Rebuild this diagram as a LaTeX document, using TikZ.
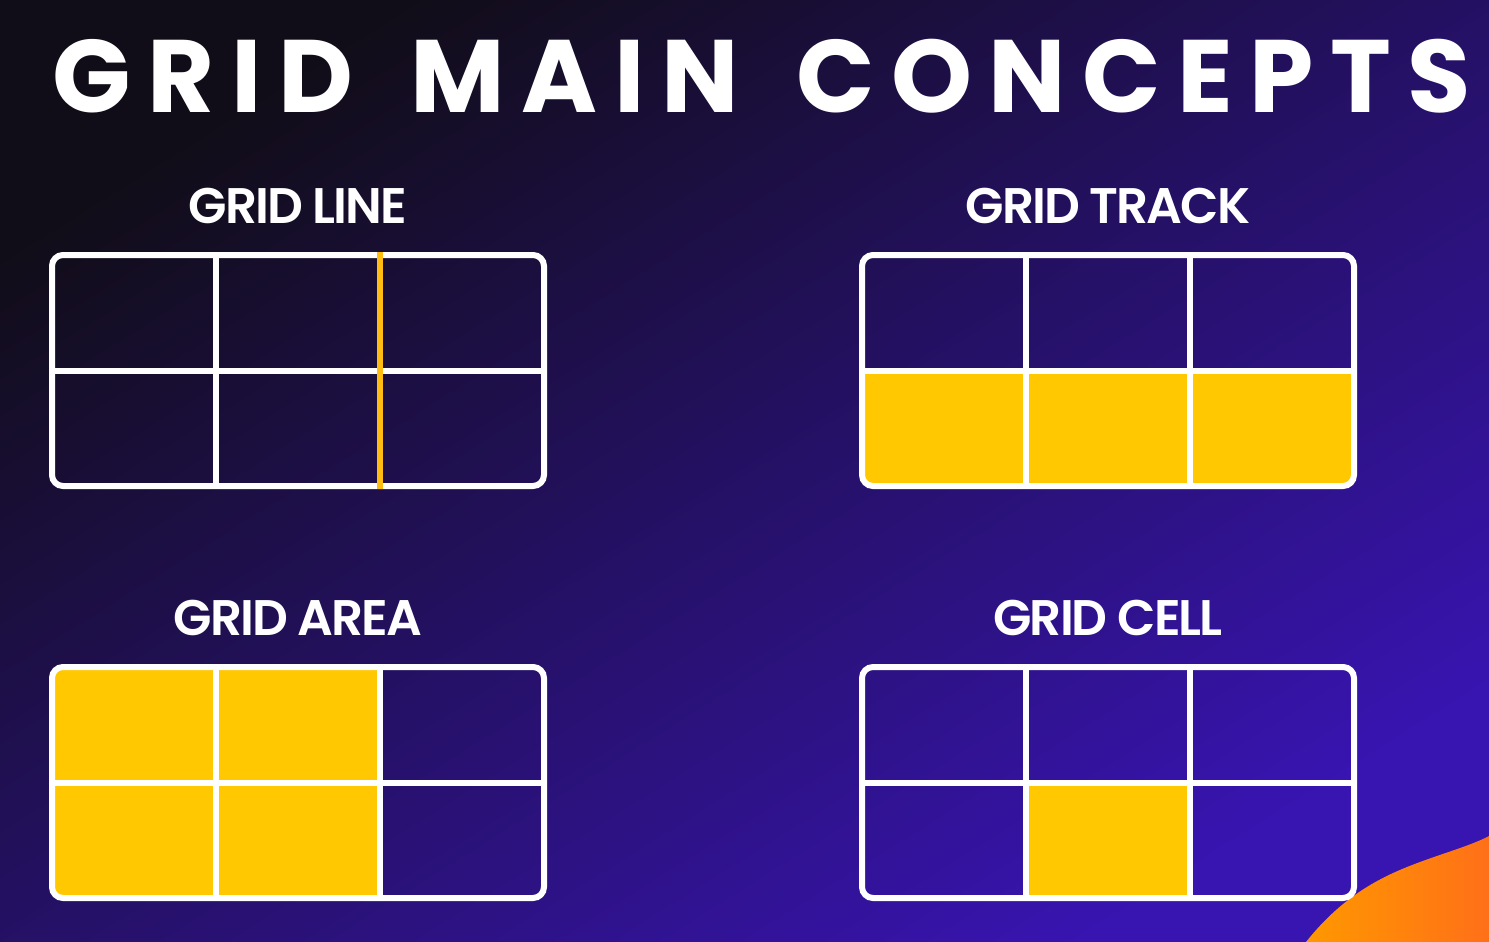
\documentclass[tikz,border=0pt]{standalone}
\usepackage{fontspec}
\usepackage{xcolor}
\usepackage{tikz}
\usetikzlibrary{positioning,calc}
\newfontfamily\titlefont{Poppins Bold}[LetterSpace=16, WordSpace=1.5]
\newfontfamily\labelfont{Poppins SemiBold}[LetterSpace=-4]
\definecolor{bgdark}{RGB}{17,13,24}
\definecolor{bgmid}{RGB}{31,15,94}
\definecolor{bgpurple}{RGB}{56,20,176}
\definecolor{gridyellow}{RGB}{255,200,0}
\definecolor{lineorange}{RGB}{255,188,18}
\definecolor{blobA}{RGB}{255,152,0}
\definecolor{blobB}{RGB}{255,112,24}
\tikzset{
  panel/.style={inner sep=0pt, outer sep=0pt, minimum width=492pt, minimum height=231pt},
  frame/.style={panel, draw=white, line width=6pt, rounded corners=11pt},
  divider/.style={draw=white, line width=6pt},
  cellfill/.style={fill=gridyellow},
  gridline/.style={draw=lineorange, line width=6pt, shorten <=-3pt, shorten >=-3pt},
  hdr/.style={font=\labelfont\fontsize{50}{50}\selectfont, text=white, inner sep=0pt},
  headline/.style={font=\titlefont\fontsize{103}{103}\selectfont, text=white, inner sep=0pt},
}

\begin{document}
\begin{tikzpicture}[x=1pt,y=-1pt]
  % backdrop
  \shade[top color=bgdark, middle color=bgmid, bottom color=bgpurple, shading angle=32] (0,0) rectangle (1489,942);
  \useasboundingbox (0,0) rectangle (1489,942);
  \shade[left color=blobA, right color=blobB] (1306,942) .. controls (1345,893) and (1385,875) .. (1420,862) .. controls (1450,851) and (1472,845) .. (1489,836) -- (1489,942) -- cycle;

  \node[headline, anchor=base] (title) at (762,113) {GRID MAIN CONCEPTS};

  % the four panels
  \node[panel] (line)  at (298,370.5) {};
  \node[panel] (track) at (1108,370.5) {};
  \node[panel] (area)  at (298,782.5) {};
  \node[panel] (cell)  at (1108,782.5) {};

  \node[hdr, above=31pt of line]  (lineT)  {GRID LINE};
  \node[hdr, above=31pt of track] (trackT) {GRID TRACK};
  \node[hdr, above=31pt of area]  (areaT)  {GRID AREA};
  \node[hdr, above=31pt of cell]  (cellT)  {GRID CELL};

  % yellow cells
  \begin{scope}
    \clip[rounded corners=9pt] (track.south west) rectangle (track.north east);
    \fill[cellfill] (track.west) rectangle (track.south east);
  \end{scope}
  \begin{scope}
    \clip[rounded corners=9pt] (area.south west) rectangle (area.north east);
    \fill[cellfill] (area.north west) rectangle ($(area.south west)!2/3!(area.south east)$);
  \end{scope}
  \fill[cellfill] ($(cell.west)!1/3!(cell.east)$) rectangle ($(cell.south west)!2/3!(cell.south east)$);

  % lines and frames
  \foreach \p in {line,track,area,cell} {
    \draw[divider] (\p.west) -- (\p.east);
    \draw[divider] ($(\p.north west)!1/3!(\p.north east)$) -- ($(\p.south west)!1/3!(\p.south east)$);
    \draw[divider] ($(\p.north west)!2/3!(\p.north east)$) -- ($(\p.south west)!2/3!(\p.south east)$);
    \node[frame] at (\p) {};
  }
  \draw[gridline] ($(line.north west)!2/3!(line.north east)$) -- ($(line.south west)!2/3!(line.south east)$);
\end{tikzpicture}
\end{document}
